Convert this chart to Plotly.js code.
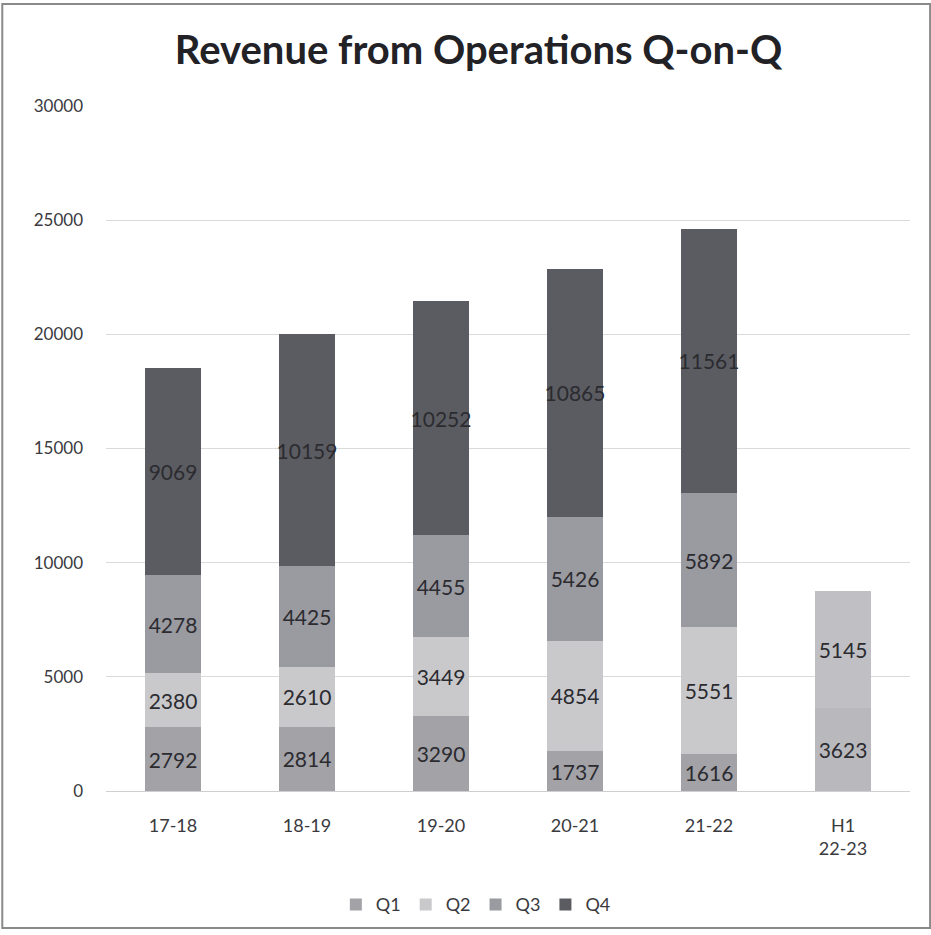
<!DOCTYPE html>
<html>
<head>
<meta charset="utf-8">
<script src="https://cdn.plot.ly/plotly-3.0.1.min.js"></script>
<style>
html,body{margin:0;padding:0;background:#fff;}
#chart{width:931px;height:935px;}
</style>
</head>
<body>
<div id="chart"></div>
<script>
const categories = ["17-18", "18-19", "19-20", "20-21", "21-22", "H1<br>22-23"];
const q1 = [2792, 2814, 3290, 1737, 1616, 3623];
const q2 = [2380, 2610, 3449, 4854, 5551, 5145];
const q3 = [4278, 4425, 4455, 5426, 5892, null];
const q4 = [9069, 10159, 10252, 10865, 11561, null];
const seriesNames = ["Q1", "Q2", "Q3", "Q4"];

const colors = ["#a2a2a7", "#c9c9cc", "#9a9aa1", "#5b5c62"];
const h1Colors = ["#b9b9bd", "#c0c0c4", "#9a9aa1", "#5b5c62"];
const data = [q1, q2, q3, q4].map((vals, i) => ({
  type: "bar",
  name: seriesNames[i],
  x: categories,
  y: vals,
  text: vals.map(v => v == null ? "" : String(v)),
  textposition: "inside",
  insidetextanchor: "middle",
  constraintext: "none",
  textangle: 0,
  textfont: {family: "Lato, 'Open Sans', sans-serif", size: 21, color: "#2b2b30"},
  marker: {color: categories.map((c, j) => j === 5 ? h1Colors[i] : colors[i]), line: {width: 0}},
  hoverinfo: "none"
}));

const layout = {
  width: 931, height: 935,
  barmode: "stack",
  bargap: 0.585,
  paper_bgcolor: "#ffffff",
  plot_bgcolor: "#ffffff",
  margin: {l: 106, r: 21, t: 106, b: 144},
  title: {text: "<b>Revenue from Operations Q-on-Q</b>", x: 0.514, xanchor: "center", y: 0.946, yanchor: "middle",
          font: {family: "Lato, 'Open Sans', sans-serif", size: 40, color: "#222226"}},
  font: {family: "Lato, 'Open Sans', sans-serif", color: "#3a3a3e"},
  xaxis: {
    type: "category",
    tickfont: {size: 18, color: "#3a3a3e"},
    showgrid: false, zeroline: false, showline: false, ticks: "", ticklabelstandoff: 22
  },
  yaxis: {
    range: [0, 30000],
    dtick: 5000,
    tickformat: "d",
    tickfont: {size: 17, color: "#3a3a3e"},
    gridcolor: "#dadada", gridwidth: 1,
    zeroline: true, zerolinecolor: "#cfcfcf", zerolinewidth: 1,
    showline: false, ticks: "", ticklabelstandoff: 22
  },
  showlegend: true,
  legend: {orientation: "h", x: 0.46, xanchor: "center", y: -0.166, yanchor: "middle",
           font: {size: 18, color: "#3a3a3e"}, traceorder: "normal", itemwidth: 30},
  shapes: [{type: "rect", xref: "paper", yref: "paper", x0: -0.129, x1: 1.025, y0: -0.2, y1: 1.149,
            line: {color: "#8a8a8a", width: 2}}]
};

Plotly.newPlot("chart", data, layout, {staticPlot: true});
</script>
</body>
</html>
